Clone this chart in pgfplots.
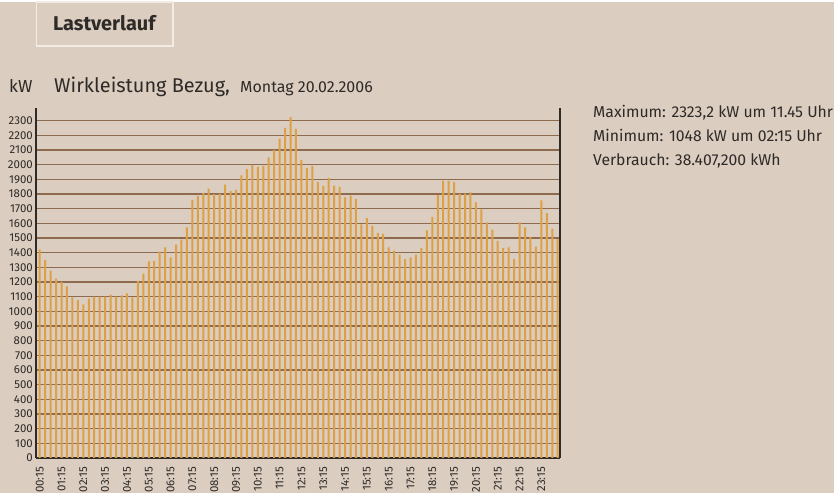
\documentclass[border=0pt]{standalone}
\usepackage{pgfplots}
\pgfplotsset{compat=1.18}
\usepackage{fontspec}
\setmainfont{Fira Sans}
\definecolor{bg}{HTML}{DBCDBF}
\definecolor{gridc}{HTML}{8E6A4E}
\definecolor{barc}{HTML}{DEA044}
\definecolor{txt}{HTML}{2E2A28}
\definecolor{boxb}{HTML}{F2ECE4}
\begin{document}
\begin{tikzpicture}[x=1bp,y=1bp]
\useasboundingbox (0,0) rectangle (834,493);
\fill[bg] (0,0) rectangle (834,493);
\fill[white] (0,491) rectangle (834,493);
\draw[boxb, line width=1.2bp, fill=bg] (36.8,491) rectangle (173,447);
\node[anchor=base west, inner sep=0, text=txt] at (53,462) {\fontsize{20}{24}\selectfont\bfseries Lastverlauf};
\node[anchor=base west, inner sep=0, text=txt] at (9,400) {\fontsize{17.5}{20}\selectfont kW};
\node[anchor=base west, inner sep=0, text=txt] at (54,400) {\fontsize{20}{24}\selectfont Wirkleistung Bezug,};
\node[anchor=base west, inner sep=0, text=txt] at (240,400) {\fontsize{16}{19}\selectfont Montag 20.02.2006};
\node[anchor=base west, inner sep=0, text=txt] at (593,375) {\fontsize{15.8}{19}\selectfont Maximum: 2323,2 kW um 11.45 Uhr};
\node[anchor=base west, inner sep=0, text=txt] at (593,351) {\fontsize{15.8}{19}\selectfont Minimum: 1048 kW um 02:15 Uhr};
\node[anchor=base west, inner sep=0, text=txt] at (593,327) {\fontsize{15.8}{19}\selectfont Verbrauch: 38.407,200 kWh};
\begin{axis}[
  at={(36bp,35bp)}, anchor=south west,
  scale only axis, width=524bp, height=350bp,
  xmin=-0.68, xmax=95.42, ymin=0, ymax=2386,
  axis x line*=bottom, axis y line*=left,
  axis line style={draw=txt, line width=1.3bp},
  ytick={0,100,...,2300},
  xtick={0,4,...,92},
  xticklabels={00:15,01:15,02:15,03:15,04:15,05:15,06:15,07:15,08:15,09:15,10:15,11:15,12:15,13:15,14:15,15:15,16:15,17:15,18:15,19:15,20:15,21:15,22:15,23:15},
  major tick length=0pt,
  ymajorgrids, major grid style={draw=gridc, line width=1.3bp},
  /pgf/number format/assume math mode=true,
  /pgf/number format/1000 sep={},
  tick label style={text=txt, font=\fontsize{11.5}{13}\selectfont},
  yticklabel style={anchor=east, inner sep=0pt, xshift=-3bp},
  xticklabel style={rotate=90, anchor=east, inner sep=0pt},
  xticklabel shift=9bp,
  clip=false,
]
\addplot[ybar, bar width=2bp, fill=barc, draw=none] coordinates {
(0,1423) (1,1350) (2,1277) (3,1223) (4,1200) (5,1170) (6,1095) (7,1077)
(8,1048) (9,1086) (10,1100) (11,1100) (12,1100) (13,1114) (14,1100) (15,1109)
(16,1123) (17,1095) (18,1207) (19,1257) (20,1341) (21,1343) (22,1407) (23,1436)
(24,1368) (25,1455) (26,1489) (27,1573) (28,1759) (29,1786) (30,1807) (31,1836)
(32,1798) (33,1802) (34,1864) (35,1820) (36,1827) (37,1927) (38,1970) (39,1998)
(40,1984) (41,1991) (42,2050) (43,2100) (44,2177) (45,2250) (46,2323.2) (47,2243)
(48,2032) (49,1977) (50,1991) (51,1882) (52,1855) (53,1909) (54,1857) (55,1848)
(56,1777) (57,1789) (58,1764) (59,1593) (60,1636) (61,1582) (62,1534) (63,1527)
(64,1436) (65,1414) (66,1386) (67,1355) (68,1368) (69,1386) (70,1430) (71,1552)
(72,1643) (73,1793) (74,1889) (75,1889) (76,1880) (77,1802) (78,1802) (79,1811)
(80,1743) (81,1695) (82,1607) (83,1557) (84,1480) (85,1430) (86,1436) (87,1357)
(88,1607) (89,1573) (90,1507) (91,1441) (92,1757) (93,1670) (94,1564) (95,1493)
};
\draw[txt, line width=1.3bp] (rel axis cs:1,0) -- (rel axis cs:1,1);
\end{axis}
\end{tikzpicture}
\end{document}
